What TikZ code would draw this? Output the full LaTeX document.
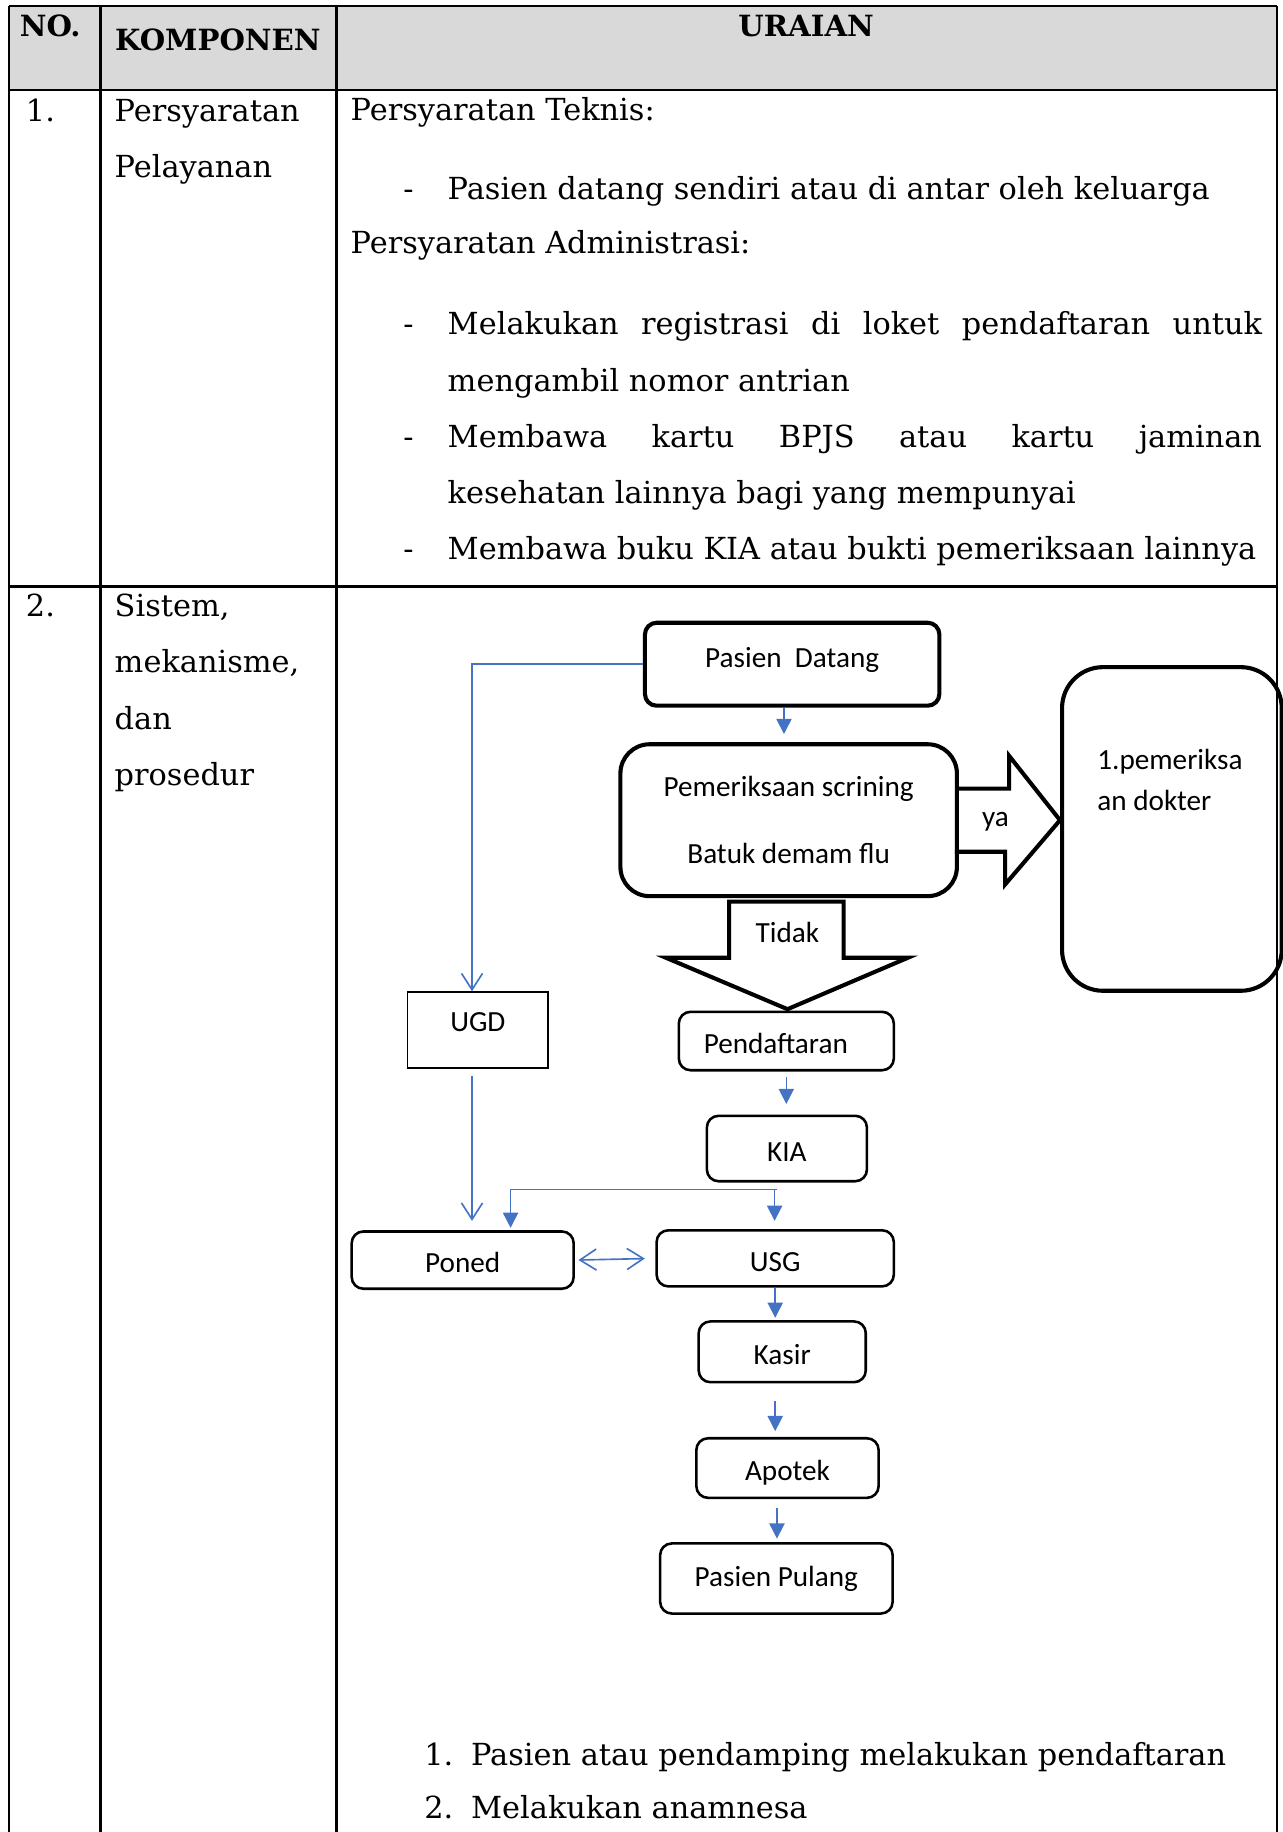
\documentclass[tikz,border=0pt]{standalone}
\usepackage{fontspec}
\setmainfont{DejaVu Serif}
\newfontfamily\flowfont{Carlito}
\usetikzlibrary{arrows.meta, positioning, calc}

\definecolor{flowblue}{HTML}{4472C4}
\definecolor{headgray}{HTML}{D9D9D9}

\begin{document}
\begin{tikzpicture}[
		x=1pt, y=-1pt,
		% tabel
		grid/.style = {line width=1.8pt},
		cell/.style = {anchor=base west, inner sep=0pt, font=\fontsize{26}{30}\selectfont},
		head/.style = {anchor=base, inner sep=0pt, font=\bfseries\fontsize{25}{30}\selectfont},
		% diagram alir
		flowtxt/.style = {inner sep=0pt, font=\flowfont\fontsize{25}{30}\selectfont},
		box/.style = {flowtxt, draw, rounded corners=10pt, line width=2.2pt},
		lowtxt/.style = {text height=22pt, text depth=0pt},
		bigbox/.style = {box, line width=3.5pt},
		plainbox/.style = {flowtxt, draw, line width=1.2pt},
		fatarrow/.style = {draw, line width=3.5pt, line join=miter},
		flow/.style = {draw=flowblue, line width=1.4pt},
		tip/.style = {flow, -{Triangle[length=13pt, width=13pt]}},
		vtip/.style = {flow, -{Straight Barb[length=14pt, width=18pt]}},
		]
		\useasboundingbox (0,0) rectangle (1098,1568);
		
		% --- TABEL ---
		\fill[headgray] (8,5) rectangle (1093,77);
		\foreach \cx in {8,86,288,1093}
			\draw[grid] (\cx,5) -- (\cx,1568);
		\draw[grid] (8,5) -- (1093,5);
		\draw[grid] (8,77) -- (1093,77);
		\draw[grid, line width=2.6pt] (8,502) -- (1093,502);
		
		\node[head] (hno) at (43,31) {NO.};
		\node[head] (hkomp) at (186.5,43) {KOMPONEN};
		\node[head] (hurai) at (690,31) {URAIAN};
		
		% baris 1
		\node[cell] (no1) at (22,104) {1.};
		\node[cell] (komp1a) at (98,104) {Persyaratan};
		\node[cell] (komp1b) at (98,152) {Pelayanan};
		\node[cell] (teknis) at (300,103) {Persyaratan Teknis:};
		\node[cell] (admin) at (300,217) {Persyaratan Administrasi:};
		\foreach \dy in {171,286,383,479}
			\node[cell] (dash\dy) at (345,\dy) {-};
		\node[cell] (item1) at (383,171) {Pasien datang sendiri atau di antar oleh keluarga};
		\node[cell] (item2a) at (383,286) {\makebox[697pt][s]{Melakukan registrasi di loket pendaftaran untuk}};
		\node[cell] (item2b) at (383,335) {mengambil nomor antrian};
		\node[cell] (item3a) at (383,383) {\makebox[697pt][s]{Membawa kartu BPJS atau kartu jaminan}};
		\node[cell] (item3b) at (383,431) {kesehatan lainnya bagi yang mempunyai};
		\node[cell] (item4) at (383,479) {Membawa buku KIA atau bukti pemeriksaan lainnya};
		
		% baris 2
		\node[cell] (no2) at (22,528) {2.};
		\foreach \ly/\txt in {528/{Sistem,}, 576/{mekanisme,}, 624/dan, 672/prosedur}
			\node[cell] (sys\ly) at (98,\ly) {\txt};
		
		% --- DIAGRAM ALIR ---
		\node[bigbox, minimum width=252pt, minimum height=71pt, text height=17pt, text depth=12pt] (datang) at (678,568.5) {Pasien~ Datang};
		\node[bigbox, rounded corners=25pt, minimum width=288pt, minimum height=130pt, align=center] (scrining) at (675,702) {Pemeriksaan scrining\\[27pt]Batuk demam flu};
		\node[bigbox, rounded corners=35pt, minimum width=188pt, minimum height=277pt] (dokter) at (1003,709.5) {};
		\node[flowtxt, anchor=north west, align=left] (doktertxt) at (939,641) {1.pemeriksa\\[5pt]an dokter};
		
		% panah blok
		\draw[fatarrow] ($(scrining.east)+(0,-27)$) -- ++(43,0) -- ++(0,-28) -- (dokter.west |- scrining.east)
			-- ++(-47,55) -- ++(0,-28) -- ++(-43,0);
		\node[flowtxt] (ya) at (852,703) {ya};
		\draw[fatarrow] ($(scrining.south)+(-51,3)$) -- ++(0,48) -- ++(-54,0) -- ++(104,44)
			-- ++(103,-44) -- ++(-55,0) -- ++(0,-48) -- cycle;
		\node[flowtxt] (tidak) at (674,798) {Tidak};
		
		\node[plainbox, minimum width=120pt, minimum height=65pt, text height=16pt, text depth=13pt] (ugd) at (409,881.5) {UGD};
		\node[box, lowtxt, minimum width=184pt, minimum height=50pt] (daftar) at (673,891) {Pendaftaran\hspace*{18pt}};
		\node[box, lowtxt, minimum width=137pt, minimum height=56pt] (kia) at (673.5,983) {KIA};
		\node[box, lowtxt, minimum width=190pt, minimum height=49pt] (poned) at (396,1078.5) {Poned};
		\node[box, lowtxt, minimum width=203pt, minimum height=48pt] (usg) at (663.5,1077) {USG};
		\node[box, lowtxt, minimum width=143pt, minimum height=52pt] (kasir) at (669.5,1157) {Kasir};
		\node[box, lowtxt, minimum width=156pt, minimum height=51pt] (apotek) at (674,1256.5) {Apotek};
		\node[box, minimum width=199pt, minimum height=60pt] (pulang) at (664.5,1351) {Pasien Pulang};
		
		% panah biru
		\draw[tip, shorten >=7pt] ([xshift=-7pt]datang.south) -- ([xshift=-7pt]datang.south |- scrining.north);
		\draw[vtip] (datang.west) -| ([xshift=-5pt]ugd.north);
		\draw[vtip, shorten <=6pt, shorten >=8pt] ([xshift=-5pt]ugd.south) -- ([xshift=-5pt]ugd.south |- poned.north);
		\draw[tip, shorten <=5pt, shorten >=9pt] (daftar.south) -- (daftar.south |- kia.north);
		
		\coordinate (forkL) at (437,1018);
		\coordinate (forkR) at (665,1018);
		\draw[flow] (forkL) -- (forkR);
		\draw[tip, shorten >=2pt] (forkL) -- (forkL |- poned.north);
		\draw[tip, shorten >=7pt] ([xshift=-2pt]forkR) -- ([xshift=-2pt]forkR |- usg.north);
		\draw[flow, {Straight Barb[length=14pt, width=18pt]}-{Straight Barb[length=14pt, width=18pt]}, shorten <=3pt, shorten >=9pt] (poned.east) -- (usg.west);
		
		\draw[tip, shorten >=2pt] (usg.south) -- (usg.south |- kasir.north);
		\draw[tip, shorten <=15pt, shorten >=5pt] ([xshift=-6pt]kasir.south) -- ([xshift=-6pt]kasir.south |- apotek.north);
		\draw[tip, shorten <=8pt, shorten >=3pt] ([xshift=-9pt]apotek.south) -- ([xshift=-9pt]apotek.south |- pulang.north);
		
		% langkah
		\node[cell] (step1n) at (363,1511) {1.};
		\node[cell] (step1) at (403,1511) {Pasien atau pendamping melakukan pendaftaran};
		\node[cell] (step2n) at (363,1556) {2.};
		\node[cell] (step2) at (403,1556) {Melakukan anamnesa};
		
	\end{tikzpicture}
\end{document}
